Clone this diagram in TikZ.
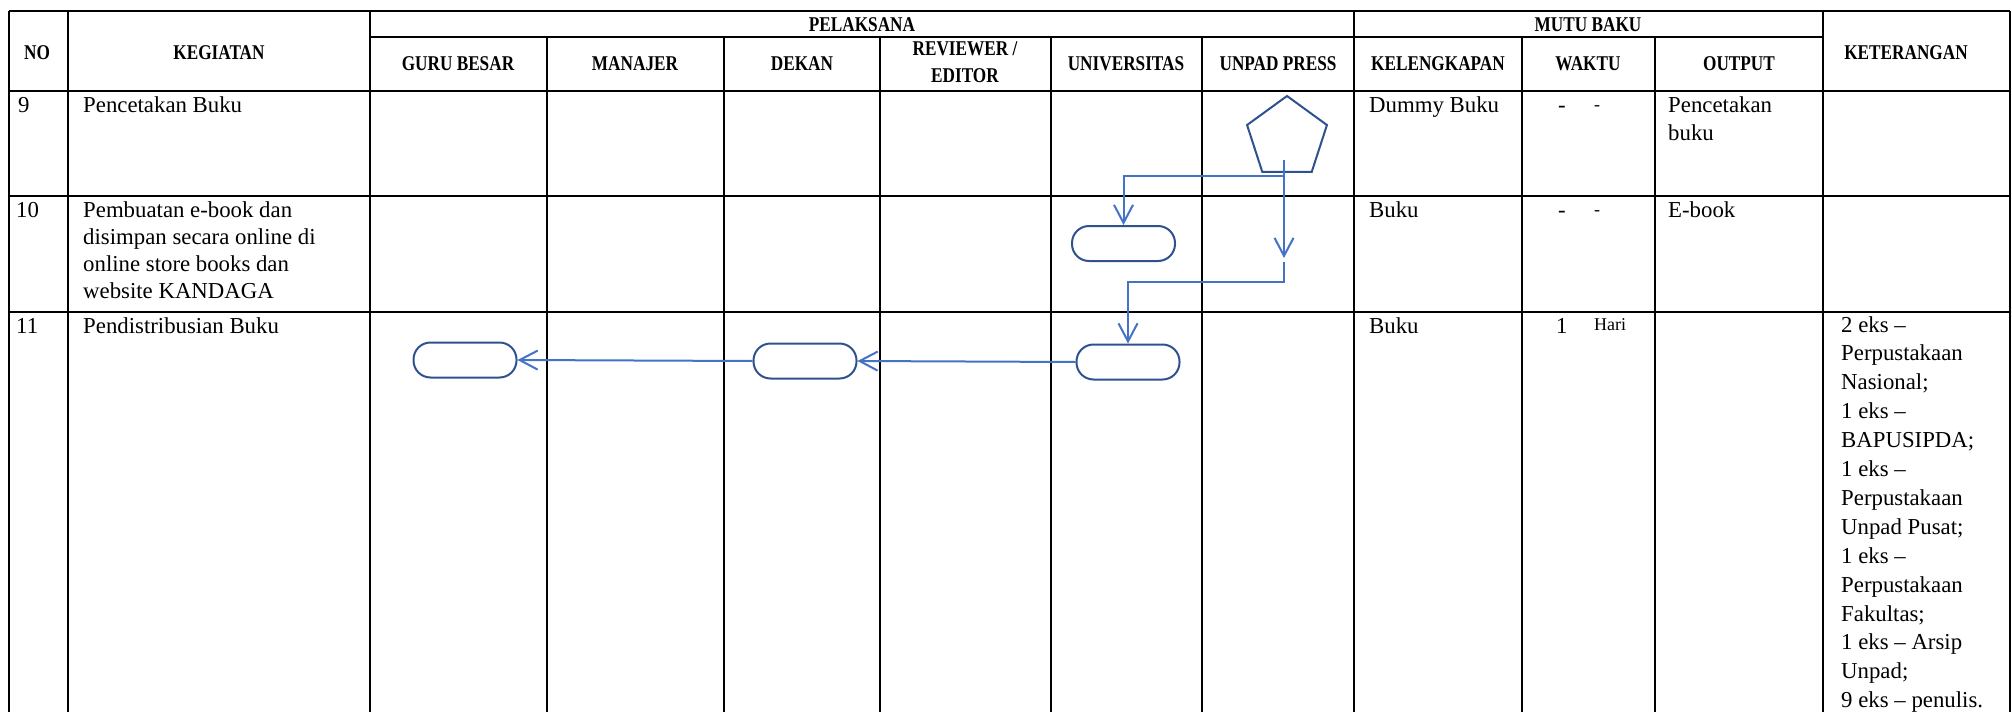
\documentclass[tikz,border=0pt]{standalone}
\usepackage{fontspec}
\setmainfont{Liberation Serif}
\newfontfamily\hdrfont[FakeStretch=0.82]{Liberation Serif}
\usetikzlibrary{arrows.meta,shapes.geometric}
\definecolor{connblue}{HTML}{4472C4}
\definecolor{shapeblue}{HTML}{2F528F}
\tikzset{
 grid/.style={line width=2.2pt, black},
 hdr/.style={font=\hdrfont\bfseries\fontsize{21}{26}\selectfont, inner sep=0pt, anchor=base},
 txt/.style={font=\fontsize{22.8}{28}\selectfont, inner sep=0pt, anchor=base west},
 smalltxt/.style={font=\fontsize{18}{22}\selectfont, inner sep=0pt, anchor=base west},
 term/.style={draw=shapeblue, line width=2pt, fill=white, rounded corners=17pt, minimum width=103pt, minimum height=35pt, inner sep=0pt},
 pentshape/.style={draw=shapeblue, line width=2pt, regular polygon, regular polygon sides=5, minimum size=84pt, inner sep=0pt},
 conn/.style={draw=connblue, line width=2pt, -{Straight Barb[length=18pt,width=19pt]}},
}
\begin{document}
\begin{tikzpicture}[x=1pt,y=-1pt]
\useasboundingbox (0,0) rectangle (2012,712);
\clip (0,0) rectangle (2012,712);
\fill[white] (0,0) rectangle (2012,712);
% grid
\draw[grid] (9,11) -- (2010,11);
\draw[grid] (370,37) -- (1823,37);
\foreach \y in {91,196,312} \draw[grid] (9,\y) -- (2010,\y);
\foreach \x in {9,68,370,1354,1823,2010} \draw[grid] (\x,11) -- (\x,712);
\foreach \x in {547,724,880,1051,1202,1522,1655} \draw[grid] (\x,37) -- (\x,712);
% header
\node[hdr] (hno) at (37,59) {NO};
\node[hdr] (hkeg) at (219,59) {KEGIATAN};
\node[hdr] (hpel) at (862,31) {PELAKSANA};
\node[hdr] (hmutu) at (1588,31) {MUTU BAKU};
\node[hdr] (hket) at (1906,59) {KETERANGAN};
\node[hdr] (hgb) at (458,70) {GURU BESAR};
\node[hdr] (hman) at (635,70) {MANAJER};
\node[hdr] (hdek) at (802,70) {DEKAN};
\node[hdr] (hrev1) at (965,55) {REVIEWER /};
\node[hdr] (hrev2) at (965,82) {EDITOR};
\node[hdr] (huniv) at (1126,70) {UNIVERSITAS};
\node[hdr] (hunpad) at (1278,70) {UNPAD PRESS};
\node[hdr] (hkel) at (1438,70) {KELENGKAPAN};
\node[hdr] (hwak) at (1588,70) {WAKTU};
\node[hdr] (hout) at (1739,70) {OUTPUT};
% row 9
\node[txt] (n9) at (18,112) {9};
\node[txt] (k9) at (83,112) {Pencetakan Buku};
\node[txt] (kel9) at (1369,112) {Dummy Buku};
\node[txt] (w9a) at (1558,112) {-};
\node[smalltxt] (w9b) at (1594,110) {-};
\node[txt] (o9a) at (1668,112) {Pencetakan};
\node[txt] (o9b) at (1668,140) {buku};
% row 10
\node[txt] (n10) at (16,217) {10};
\node[txt] (k10a) at (83,217) {Pembuatan e-book dan};
\node[txt] (k10b) at (83,244) {disimpan secara online di};
\node[txt] (k10c) at (83,271) {online store books dan};
\node[txt] (k10d) at (83,298) {website KANDAGA};
\node[txt] (kel10) at (1369,217) {Buku};
\node[txt] (w10a) at (1558,217) {-};
\node[smalltxt] (w10b) at (1594,215) {-};
\node[txt] (o10) at (1668,217) {E-book};
% row 11
\node[txt] (n11) at (16,333) {11};
\node[txt] (k11) at (83,333) {Pendistribusian Buku};
\node[txt] (kel11) at (1369,333) {Buku};
\node[txt] (w11a) at (1556,333) {1};
\node[smalltxt] (w11b) at (1594,330) {Hari};
\foreach \t [count=\i] in {2 eks –,Perpustakaan,Nasional;,1 eks –,BAPUSIPDA;,1 eks –,Perpustakaan,Unpad Pusat;,1 eks –,Perpustakaan,Fakultas;,1 eks – Arsip,Unpad;,9 eks – penulis.}
  \node[txt] (ket\i) at (1841,{332+(\i-1)*28.9}) {\t};
% shapes
\node[pentshape] (pent) at (1287,138) {};
\node[term] (r1) at (1123.5,243.5) {};
\node[term] (r2) at (1128,362) {};
\node[term] (r3) at (805,361) {};
\node[term] (r4) at (465,360) {};
\coordinate (a1) at (1284,160);
\coordinate (a2) at (1284,258);
\coordinate (a3) at (1284,262);
% connectors
\draw[conn] (a1) -- ++(0,16) -| (r1.north);
\draw[conn] (a1) -- (a2);
\draw[conn] (a3) -- ++(0,20) -| (r2.north);
\draw[conn] (r2.west) -- (r3.east);
\draw[conn] (r3.west) -- (r4.east);
\end{tikzpicture}
\end{document}
